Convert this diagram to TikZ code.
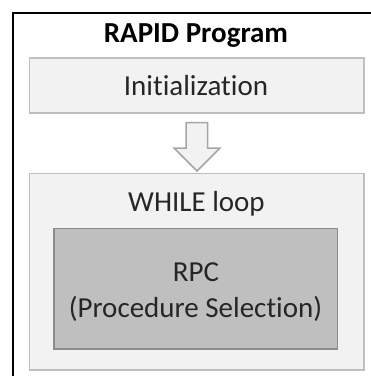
\documentclass[tikz,border=0pt]{standalone}
\usepackage{fontspec}
\setmainfont{Carlito}[Ligatures={NoCommon,NoContextual}]
\definecolor{boxfill}{HTML}{F2F2F2}
\definecolor{boxline}{HTML}{BFBFBF}
\definecolor{rpcfill}{HTML}{BFBFBF}
\definecolor{rpcline}{HTML}{8C8C8C}
\definecolor{arrline}{HTML}{A6A6A6}
\definecolor{txt}{HTML}{262626}
\begin{document}
\begin{tikzpicture}[x=1pt,y=-1pt,
  lightbox/.style={draw=boxline,fill=boxfill,line width=1.5pt},
  darkbox/.style={draw=rpcline,fill=rpcfill,line width=1.2pt},
  lbl/.style={font=\fontsize{29}{34}\selectfont,text=txt,anchor=base,inner sep=0pt},
  blockarrow/.style={draw=arrline,fill=boxfill,line width=1.5pt,line join=miter}]
\useasboundingbox (0,0) rectangle (371,376);
\clip (0,0) rectangle (371,376);
\fill[white] (0,0) rectangle (371,376);
\draw[black,line width=2pt] (13,390) coordinate (fbl) -- (13,13) coordinate (ftl) -- (390,13) coordinate (ftr);
\node[lbl,text=black,font=\fontsize{29}{34}\selectfont\bfseries] (title) at (196,42.5) {RAPID Program};
\draw[lightbox] (29.5,58) rectangle (364,113);
\node[lbl] (init) at (196,95) {Initialization};
\draw[blockarrow] (186,122.5) -- (207.5,122.5) -- (207.5,148) -- (220,148) -- (197,171) -- (174,148) -- (186,148) -- cycle;
\draw[lightbox] (29.5,173.5) rectangle (364,370);
\node[lbl] (while) at (196.5,211.5) {WHILE loop};
\draw[darkbox] (54,228.5) rectangle (337.5,349);
\node[lbl] (rpc1) at (196,281.5) {RPC};
\node[lbl] (rpc2) at (195.5,317) {(Procedure Selection)};
\end{tikzpicture}
\end{document}
